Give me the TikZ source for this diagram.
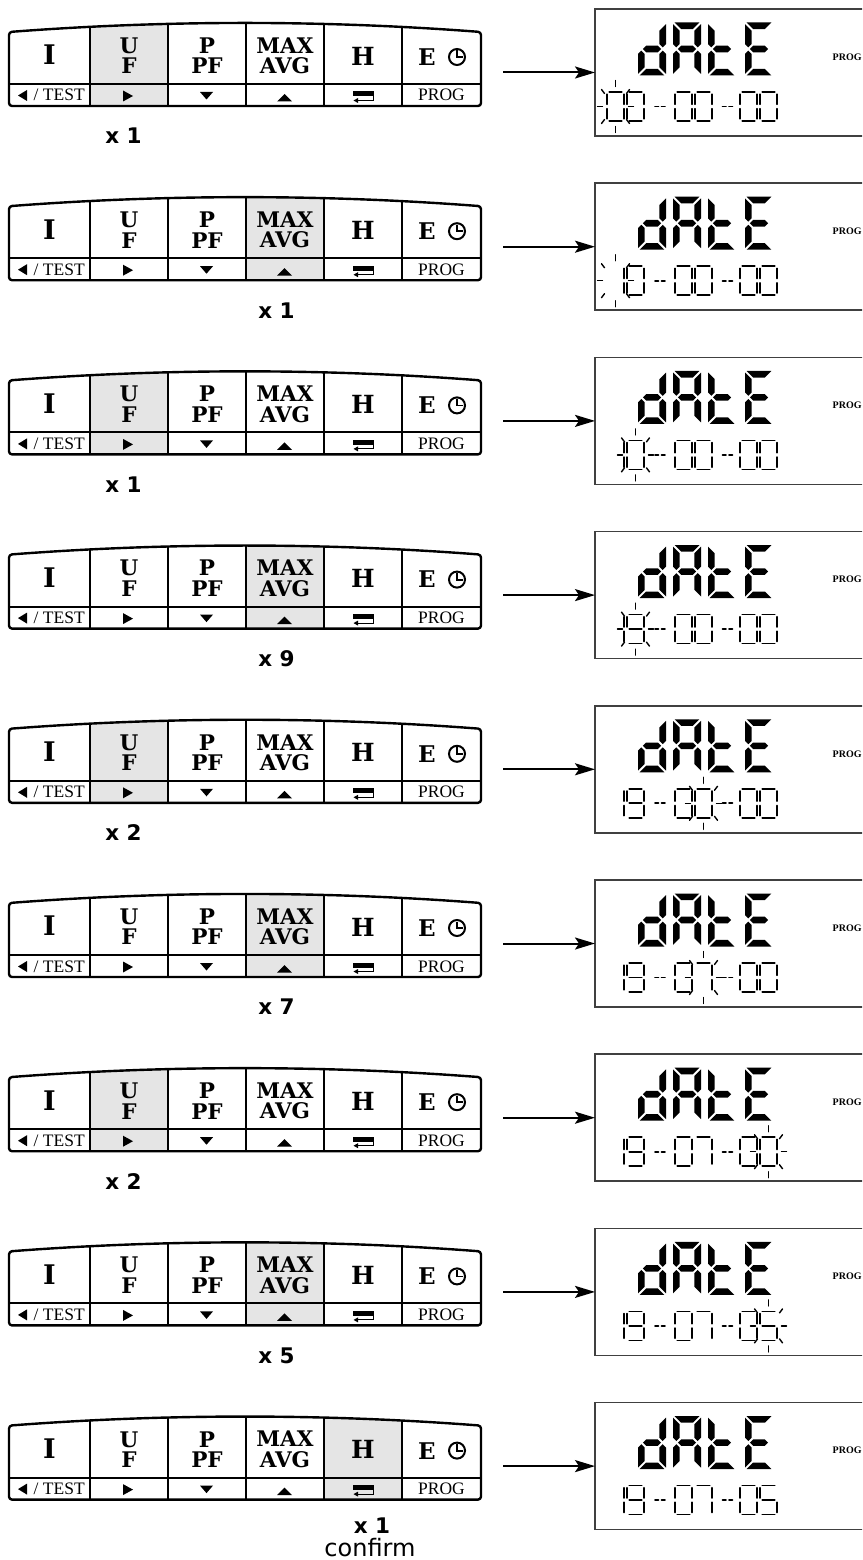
\documentclass[tikz,border=0pt]{standalone}
\usepackage{fontspec}
\setmainfont{DejaVu Serif}
\newfontfamily\keyfont{DejaVu Serif}
\newfontfamily\subfont{Liberation Serif}
\newfontfamily\lblfont{DejaVu Sans}
\usetikzlibrary{arrows.meta}

\definecolor{hlgray}{gray}{0.9}
\definecolor{lcdframe}{gray}{0.25}

\tikzset{
  panelframe/.style={line width=2.4pt, line join=round, rounded corners=3pt},
  divider/.style={line width=1.9pt},
  keytext/.style={font=\keyfont\bfseries\fontsize{21.5}{20.5}\selectfont, align=center, inner sep=0pt},
  keybig/.style={keytext, font=\keyfont\bfseries\fontsize{27}{27}\selectfont},
  keymid/.style={keytext, font=\keyfont\bfseries\fontsize{25}{25}\selectfont},
  keye/.style={keytext, font=\keyfont\bfseries\fontsize{23}{23}\selectfont},
  subtext/.style={font=\subfont\fontsize{17.5}{17.5}\selectfont, inner sep=0pt},
  lcdbox/.style={draw=lcdframe, line width=1.5pt, inner sep=0pt, outer sep=0pt, minimum width=290pt, minimum height=127pt},
  lcdthin/.style={line width=1.7pt, line cap=round},
  blinktick/.style={line width=1.4pt, line cap=round},
  flow/.style={line width=2pt, -{Stealth[length=20pt, width=12pt, inset=4pt]}, shorten <=22pt},
  countlabel/.style={font=\lblfont\bfseries\fontsize{21.5}{24}\selectfont, inner sep=0pt},
  confirmlabel/.style={font=\lblfont\fontsize{24}{26}\selectfont, inner sep=0pt},
  lcdprog/.style={font=\subfont\bfseries\fontsize{10}{10}\selectfont, inner sep=0pt, anchor=west},
  panelarea/.style={inner sep=0pt, outer sep=0pt, minimum width=472pt, minimum height=84pt},
}

% ---------- big 7-segment glyphs ----------
\def\BY{22.5}\def\BH{53}\def\BM{49}\def\BW{28}\def\BT{6.6}\def\BG{1.6}
\newcommand{\bsegA}{\fill ({\BX+\BG},{\BY}) -- ({\BX+\BW-\BG},{\BY}) -- ({\BX+\BW-\BG-\BT},{\BY+\BT}) -- ({\BX+\BG+\BT},{\BY+\BT}) -- cycle;}
\newcommand{\bsegB}{\fill ({\BX+\BW},{\BY+\BG}) -- ({\BX+\BW},{\BM-\BG-\BT/2}) -- ({\BX+\BW-\BT/2},{\BM-\BG}) -- ({\BX+\BW-\BT},{\BM-\BG-\BT/2}) -- ({\BX+\BW-\BT},{\BY+\BG+\BT}) -- cycle;}
\newcommand{\bsegC}{\fill ({\BX+\BW},{\BM+\BG+\BT/2}) -- ({\BX+\BW},{\BY+\BH-\BG}) -- ({\BX+\BW-\BT},{\BY+\BH-\BG-\BT}) -- ({\BX+\BW-\BT},{\BM+\BG+\BT/2}) -- ({\BX+\BW-\BT/2},{\BM+\BG}) -- cycle;}
\newcommand{\bsegD}{\fill ({\BX+\BG},{\BY+\BH}) -- ({\BX+\BW-\BG},{\BY+\BH}) -- ({\BX+\BW-\BG-\BT},{\BY+\BH-\BT}) -- ({\BX+\BG+\BT},{\BY+\BH-\BT}) -- cycle;}
\newcommand{\bsegE}{\fill ({\BX},{\BM+\BG+\BT/2}) -- ({\BX+\BT/2},{\BM+\BG}) -- ({\BX+\BT},{\BM+\BG+\BT/2}) -- ({\BX+\BT},{\BY+\BH-\BG-\BT}) -- ({\BX},{\BY+\BH-\BG}) -- cycle;}
\newcommand{\bsegF}{\fill ({\BX},{\BY+\BG}) -- ({\BX+\BT},{\BY+\BG+\BT}) -- ({\BX+\BT},{\BM-\BG-\BT/2}) -- ({\BX+\BT/2},{\BM-\BG}) -- ({\BX},{\BM-\BG-\BT/2}) -- cycle;}
\newcommand{\bsegG}{\fill ({\BX+\BT/2+\BG},{\BM}) -- ({\BX+\BT+\BG},{\BM-\BT/2}) -- ({\BX+\BW-\BT-\BG},{\BM-\BT/2}) -- ({\BX+\BW-\BT/2-\BG},{\BM}) -- ({\BX+\BW-\BT-\BG},{\BM+\BT/2}) -- ({\BX+\BT+\BG},{\BM+\BT/2}) -- cycle;}
\newcommand{\BigDigit}[2]{\def\BX{#1}\foreach \s in {#2}{\csname bseg\s\endcsname}}

% ---------- small 7-segment digits ----------
\def\SY{92}\def\SH{29}\def\SM{106.5}\def\SW{17}\def\SG{2.2}
\newcommand{\ssegA}{\draw[lcdthin] ({\SX+\SG},{\SY}) -- ({\SX+\SW-\SG},{\SY});}
\newcommand{\ssegB}{\draw[lcdthin] ({\SX+\SW},{\SY+\SG}) -- ({\SX+\SW},{\SM-\SG});}
\newcommand{\ssegC}{\draw[lcdthin] ({\SX+\SW},{\SM+\SG}) -- ({\SX+\SW},{\SY+\SH-\SG});}
\newcommand{\ssegD}{\draw[lcdthin] ({\SX+\SG},{\SY+\SH}) -- ({\SX+\SW-\SG},{\SY+\SH});}
\newcommand{\ssegE}{\draw[lcdthin] ({\SX},{\SM+\SG}) -- ({\SX},{\SY+\SH-\SG});}
\newcommand{\ssegF}{\draw[lcdthin] ({\SX},{\SY+\SG}) -- ({\SX},{\SM-\SG});}
\newcommand{\ssegG}{\draw[lcdthin] ({\SX+\SG},{\SM}) -- ({\SX+\SW-\SG},{\SM});}
\expandafter\def\csname digsegs0\endcsname{A,B,C,D,E,F}
\expandafter\def\csname digsegs1\endcsname{B,C}
\expandafter\def\csname digsegs5\endcsname{A,C,D,F,G}
\expandafter\def\csname digsegs7\endcsname{A,B,C}
\expandafter\def\csname digsegs9\endcsname{A,B,C,D,F,G}
\newcommand{\SmallDigit}[2]{\def\SX{#1}%
  \expandafter\let\expandafter\segl\csname digsegs#2\endcsname
  \foreach \s in \segl {\csname sseg\s\endcsname}}
\newcommand{\SixDigits}[6]{%
  \SmallDigit{607}{#1}\SmallDigit{627}{#2}%
  \SmallDigit{675}{#3}\SmallDigit{695}{#4}%
  \SmallDigit{740}{#5}\SmallDigit{760}{#6}%
  \draw[lcdthin] (655,106.5) -- (658.5,106.5) (661.5,106.5) -- (665,106.5);
  \draw[lcdthin] (722.5,106.5) -- (726,106.5) (729,106.5) -- (732.5,106.5);}

\newcommand{\BlinkAt}[1]{%
  \foreach \a/\b/\c/\d in {0/-20/0/-26, 0/20/0/26, -13/0/-18/0, 13/0/18/0,
      -11/-13/-14/-17, 11/-13/14/-17, -11/13/-14/17, 11/13/14/17}
    {\draw[blinktick] ({#1+\a},{106.5+\b}) -- ({#1+\c},{106.5+\d});}}
\newcommand{\BlinkPos}[1]{\ifcase#1\or\BlinkAt{615.5}\or\BlinkAt{635.5}\or\BlinkAt{683.5}\or\BlinkAt{703.5}\or\BlinkAt{748.5}\or\BlinkAt{768.5}\fi}

\newcommand{\panelshape}{(9,106) -- (9,32) .. controls (166,20) and (324,20) .. (481,32) -- (481,106) -- cycle}

% #1 row, #2 highlighted column, #3 count text, #4 label x, #5 digits, #6 blink position, #7 label y
\newcommand{\Row}[7]{%
  \pgfmathsetmacro\rowoff{174.2*(#1-1)}%
  \ifcase#2\or\def\hlL{9}\def\hlR{90}\or\def\hlL{90}\def\hlR{168}\or\def\hlL{168}\def\hlR{246}\or\def\hlL{246}\def\hlR{324}\or\def\hlL{324}\def\hlR{402}\or\def\hlL{402}\def\hlR{481}\fi
  \begin{scope}[shift={(0,\rowoff)}]
    \node[panelarea] (p#1) at (245,65) {};
    \begin{scope}
      \clip[rounded corners=3pt] \panelshape;
      \fill[hlgray] (\hlL,0) rectangle (\hlR,110);
      \foreach \xx in {90,168,246,324,402} {\draw[divider] (\xx,10) -- (\xx,110);}
      \draw[divider] (0,84) -- (490,84);
    \end{scope}
    \draw[panelframe] \panelshape;
    % key captions
    \node[keybig] (kI#1) at (49.5,55) {I};
    \node[keytext] (kU#1) at (129,55.8) {U\\F};
    \node[keytext] (kP#1) at (207,55.8) {P\\PF};
    \node[keytext] (kM#1) at (285,55.8) {MAX\\AVG};
    \node[keymid] (kH#1) at (363,56) {H};
    \node[keye] (kE#1) at (427,57) {E};
    \draw[line width=2pt] (457,57) circle (8pt);
    \draw[line width=1.8pt] (457,50.5) -- (457,57) -- (462.5,57);
    % lower captions
    \fill (18,95.5) -- (27,90) -- (27,101) -- cycle;
    \node[subtext, anchor=base west] (kT#1) at (33.5,101) {/ TEST};
    \fill (123,90.5) -- (133,96) -- (123,101.5) -- cycle;
    \fill (200,92) -- (213,92) -- (206.5,99.5) -- cycle;
    \fill (277,101.5) -- (292,101.5) -- (284.5,94) -- cycle;
    \fill (353,91.5) rectangle (374,96.5);
    \draw[line width=1.1pt] (373.5,96.5) -- (373.5,100.5) -- (357,100.5);
    \fill (353.5,100.5) -- (358,98) -- (358,103) -- cycle;
    \node[subtext, anchor=base] (kG#1) at (441.5,101) {PROG};
    % display
    \node[lcdbox, anchor=north west] (lcd#1) at (595,9) {};
    \BigDigit{638}{B,C,D,E,G}
    \BigDigit{673}{A,B,C,E,F,G}
    \BigDigit{708}{D,E,F,G}
    \BigDigit{745}{A,D,E,F,G}
    \node[lcdprog] (lp#1) at (832.5,57) {PROG};
    \SixDigits#5
    \BlinkPos{#6}
    \draw[flow] (lcd#1.west -| p#1.east) -- (lcd#1.west);
    \node[countlabel] (n#1) at (#4,#7) {#3};
  \end{scope}}

\begin{document}
\begin{tikzpicture}[x=1pt,y=-1pt]
\useasboundingbox (0,0) rectangle (862,1560);
\fill[white] (0,0) rectangle (862,1560);
\clip (0,0) rectangle (862,1560);
\Row{1}{2}{x 1}{123.5}{000000}{1}{136}
\Row{2}{4}{x 1}{276.5}{100000}{1}{136}
\Row{3}{2}{x 1}{123.5}{100000}{2}{136}
\Row{4}{4}{x 9}{276.5}{190000}{2}{136}
\Row{5}{2}{x 2}{123.5}{190000}{4}{136}
\Row{6}{4}{x 7}{276.5}{190700}{4}{136}
\Row{7}{2}{x 2}{123.5}{190700}{6}{136}
\Row{8}{4}{x 5}{276.5}{190705}{6}{136}
\Row{9}{5}{x 1}{372}{190705}{0}{131.9}
\node[confirmlabel, anchor=base] (cf) at (370,1556) {confirm};
\end{tikzpicture}
\end{document}
